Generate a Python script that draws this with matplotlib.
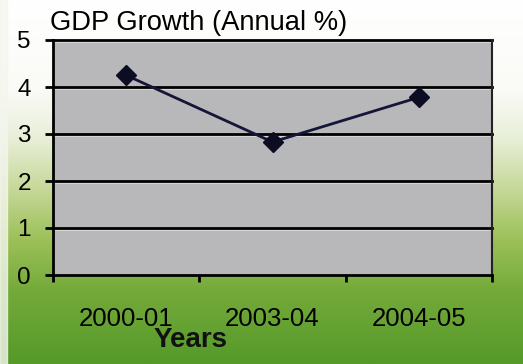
import numpy as np
import matplotlib
matplotlib.use("Agg")
import matplotlib.pyplot as plt
from matplotlib.colors import LinearSegmentedColormap

categories = ["2000-01", "2003-04", "2004-05"]
gdp_growth = [4.25, 2.83, 3.78]
y_ticks = [0, 1, 2, 3, 4, 5]
title = "GDP Growth (Annual %)"
x_title = "Years"

plt.rcParams['font.family'] = ['Liberation Sans', 'DejaVu Sans']

W, H = 523, 364
fig = plt.figure(figsize=(W / 100, H / 100), dpi=100)

# background gradient
bg = fig.add_axes([0, 0, 1, 1], zorder=-10)
cmap = LinearSegmentedColormap.from_list("bg", [
    (0.0, "#ffffff"), (0.25, "#fafaf6"), (0.38, "#e8efd8"),
    (0.52, "#c6d898"), (0.66, "#9cc058"), (0.80, "#74aa3a"),
    (1.0, "#559a2a")])
grad = np.linspace(0, 1, 256).reshape(-1, 1)
bg.imshow(grad, aspect='auto', cmap=cmap, extent=[0, 1, 0, 1], origin='upper')
bg.add_patch(plt.Rectangle((0, 0), 7 / W, 1, color="#f4f6ee", alpha=0.8))
bg.set_xlim(0, 1); bg.set_ylim(0, 1)
bg.axis('off')

left, right, top, bottom = 53, 492, 40, 275
ax = fig.add_axes([left / W, 1 - bottom / H, (right - left) / W, (bottom - top) / H])
ax.set_facecolor("#b8b8ba")

x = np.arange(len(categories))
ax.set_xlim(-0.5, len(categories) - 0.5)
ax.set_ylim(0, 5)

for yv in y_ticks[1:]:
    ax.axhline(yv - 0.045, color="#dcdcdc", lw=1.2, zorder=1)
    ax.axhline(yv, color="black", lw=2, zorder=2, clip_on=False)

ax.plot(x, gdp_growth, color="#15153a", lw=2, marker='D', markersize=10,
        markerfacecolor="#0c0c22", markeredgecolor="#0c0c22", zorder=5)

ax.set_yticks(y_ticks)
ax.set_yticklabels([str(v) for v in y_ticks])
ax.tick_params(axis='y', length=6, width=2, direction='out', pad=10,
               labelsize=17.5, colors='black')

ax.set_xticks(np.arange(len(categories) + 1) - 0.5)
ax.set_xticklabels([])
ax.set_xticks(x, minor=True)
ax.set_xticklabels(categories, minor=True)
ax.tick_params(axis='x', which='major', length=5, width=2, direction='out')
ax.tick_params(axis='x', which='minor', length=0, pad=23, labelsize=18.5)

for s in ['left', 'bottom']:
    ax.spines[s].set_linewidth(2)
    ax.spines[s].set_color('black')
ax.spines['right'].set_linewidth(1.5)
ax.spines['right'].set_color('#222222')
ax.spines['top'].set_visible(False)

fig.text(50 / W, 1 - 30 / H, title, fontsize=19.7, ha='left', va='baseline')
fig.text(191 / W, 1 - 347 / H, x_title, fontsize=20, fontweight='bold',
         ha='center', va='baseline', color='#111111')

fig.savefig("out.png", dpi=100)
